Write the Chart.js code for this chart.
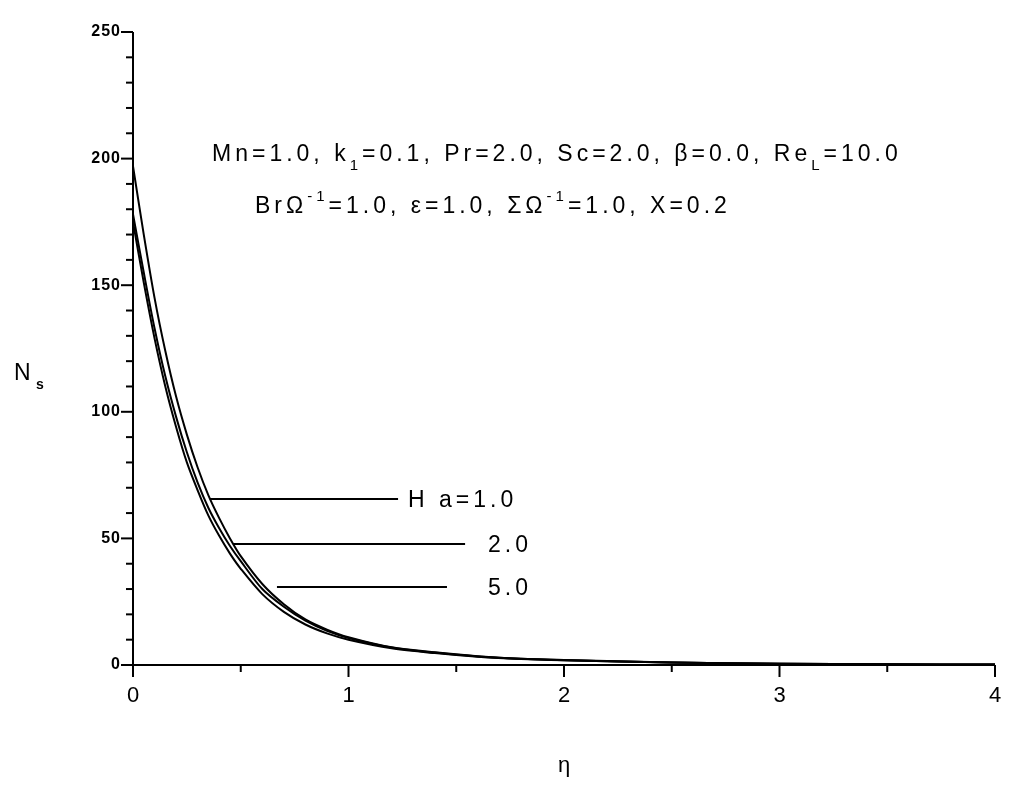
<!DOCTYPE html>
<html><head><meta charset="utf-8">
<script src="https://cdn.jsdelivr.net/npm/chart.js@4"></script>
<style>html,body{margin:0;background:#fff}#w{width:1024px;height:793px}</style>
</head><body><div id="w"><canvas id="c"></canvas></div>
<script>
const etaA=[0,0.05,0.1,0.15,0.2,0.25,0.3,0.35,0.4,0.45,0.5,0.6,0.7,0.8,0.9,1.0,1.2,1.4,1.6,1.8,2.0,2.5,3.0,3.5,4.0];
const ha1=[197,170,145,124,106,91,78,67,58,50,43,32,24,18,14,11,7,5,3.5,2.5,2,1,0.5,0.3,0.2];
const ha2=[178,155,133,114,98,84,72,62,54,47,41,30,23,17.5,13.5,10.7,6.9,4.9,3.4,2.5,1.9,1,0.5,0.3,0.2];
const ha5=[175,151,129,110,94,80,69,59,51,44,38,28,21,16,12.5,10,6.6,4.7,3.3,2.4,1.9,1,0.5,0.3,0.2];
const labels=["H a=1.0","2.0","5.0"];
const leaderX=[[0.357,1.23],[0.464,1.541],[0.668,1.457]];
const leaderY=[65.6,47.8,30.8];
const xTicks=[0,1,2,3,4], yTicks=[0,50,100,150,200,250];
const pts=(xs,ys)=>xs.map((x,i)=>({x,y:ys[i]}));
const ds=[ha1,ha2,ha5].map(v=>({data:pts(etaA,v),borderColor:'#000',borderWidth:2,pointRadius:0,tension:0.3}));
leaderX.forEach((lx,i)=>ds.push({data:[{x:lx[0],y:leaderY[i]},{x:lx[1],y:leaderY[i]}],borderColor:'#000',borderWidth:2,pointRadius:0}));
const deco={id:'deco',afterDraw(ch){
 const c=ch.ctx,xs=ch.scales.x,ys=ch.scales.y,a=ch.chartArea;
 c.save();c.strokeStyle='#000';c.lineWidth=2;
 c.beginPath();c.moveTo(a.left,a.top);c.lineTo(a.left,a.bottom);c.lineTo(a.right,a.bottom);c.stroke();
 for(let v=0;v<=250;v+=10){const y=ys.getPixelForValue(v);const L=v%50===0?12:7;c.beginPath();c.moveTo(a.left,y);c.lineTo(a.left-L,y);c.stroke();}
 for(let v=0;v<=4;v+=0.5){const x=xs.getPixelForValue(v);const L=Number.isInteger(v)?12:7;c.beginPath();c.moveTo(x,a.bottom);c.lineTo(x,a.bottom+L);c.stroke();}
 c.fillStyle='#000';c.letterSpacing='1px';c.font='bold 16px Liberation Sans';c.textAlign='right';c.textBaseline='middle';
 yTicks.forEach(v=>c.fillText(v,a.left-12,ys.getPixelForValue(v)));
 c.letterSpacing='0px';c.font='22px Liberation Sans';c.textAlign='center';c.textBaseline='top';
 xTicks.forEach(v=>c.fillText(v,xs.getPixelForValue(v),a.bottom+20));
 c.fillText('η',a.left+(a.right-a.left)/2,755);
 c.letterSpacing='4px';
 c.font='23px Liberation Sans';c.textAlign='left';c.textBaseline='alphabetic';
 c.fillText('N',14,380);c.font='bold 14px Liberation Sans';c.fillText('s',36,389);
 c.font='23px Liberation Sans';
 labels.forEach((t,i)=>{c.fillText(t,i==0?408:488,ys.getPixelForValue(leaderY[i])+8);});
 let x=212;const seg=(y,t,f,dy)=>{c.font=f;c.fillText(t,x,y+dy);x+=c.measureText(t).width;};
 const B='23px Liberation Sans',S='15px Liberation Sans';
 seg(161,'Mn=1.0, k',B,0);seg(161,'1',S,9);seg(161,'=0.1, Pr=2.0, Sc=2.0, β=0.0, Re',B,0);seg(161,'L',S,9);seg(161,'=10.0',B,0);
 x=255;
 seg(213,'BrΩ',B,0);seg(213,'-1',S,-12);seg(213,'=1.0, ε=1.0, ΣΩ',B,0);seg(213,'-1',S,-12);seg(213,'=1.0, X=0.2',B,0);
 c.restore();}};
new Chart(document.getElementById('c'),{type:'line',data:{datasets:ds},plugins:[deco],
options:{responsive:true,maintainAspectRatio:false,animation:false,
layout:{padding:{left:133,right:29,top:32,bottom:128}},
plugins:{legend:{display:false},tooltip:{enabled:false}},
scales:{x:{type:'linear',min:0,max:4,display:false},y:{min:0,max:250,display:false}}}});
</script></body></html>
